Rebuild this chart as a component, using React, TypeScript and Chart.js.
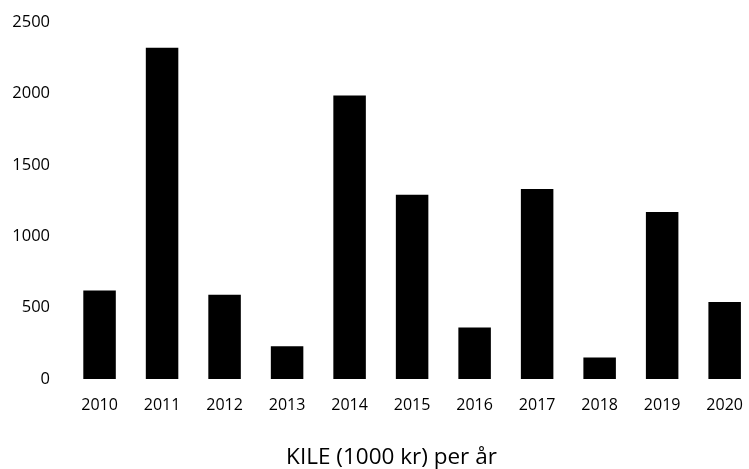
import React, { useEffect, useRef } from "react";
import { Chart, registerables } from "chart.js";

Chart.register(...registerables);

const years = ["2010", "2011", "2012", "2013", "2014", "2015", "2016", "2017", "2018", "2019", "2020"];
const kileValues = [620, 2320, 590, 230, 1985, 1290, 360, 1330, 150, 1170, 540];
const yTicks = [0, 500, 1000, 1500, 2000, 2500];
const chartTitle = "KILE (1000 kr) per år";

const FONT = "'Open Sans', 'DejaVu Sans', sans-serif";

const bottomTitlePlugin = {
  id: "bottomTitle",
  afterDraw(chart: any) {
    const { ctx, chartArea } = chart;
    ctx.save();
    ctx.font = `22.5px ${FONT}`;
    ctx.fillStyle = "#000";
    ctx.textAlign = "center";
    ctx.textBaseline = "middle";
    const x = chartArea.left + (chartArea.right - chartArea.left) * 0.47;
    const y = chartArea.bottom + 79;
    ctx.fillText(chartTitle, x, y);
    ctx.restore();
  },
};

export default function App() {
  const ref = useRef<HTMLCanvasElement | null>(null);

  useEffect(() => {
    if (!ref.current) return;
    const chart = new Chart(ref.current, {
      type: "bar",
      data: {
        labels: years,
        datasets: [
          {
            data: kileValues,
            backgroundColor: "#000000",
            borderWidth: 0,
            barPercentage: 0.52,
            categoryPercentage: 1,
          },
        ],
      },
      options: {
        animation: false,
        responsive: false,
        layout: { padding: { top: 22, left: 0, right: 1, bottom: 0 } },
        plugins: {
          legend: { display: false },
          tooltip: { enabled: false },
          title: { display: false },
        },
        scales: {
          x: {
            grid: { display: false, drawTicks: false },
            border: { display: false },
            ticks: {
              color: "#000",
              font: { family: FONT, size: 16 },
              padding: 17,
              maxRotation: 0,
              autoSkip: false,
            },
            afterFit: (scale: any) => {
              scale.height = 90;
            },
          },
          y: {
            min: 0,
            max: 2500,
            grid: { display: false, drawTicks: false },
            border: { display: false },
            afterBuildTicks: (scale: any) => {
              scale.ticks = yTicks.map((v) => ({ value: v }));
            },
            ticks: {
              color: "#000",
              font: { family: FONT, size: 16.5 },
              padding: 18.3,
              callback: (value: any) => String(value),
            },
            afterFit: (scale: any) => {
              scale.width = 68.3;
              scale.paddingTop = 0;
              scale.paddingBottom = 0;
            },
          },
        },
      },
      plugins: [bottomTitlePlugin],
    });
    return () => chart.destroy();
  }, []);

  return (
    <div
      style={{
        position: "fixed",
        left: 0,
        top: 0,
        width: 749,
        height: 469,
        overflow: "hidden",
        background: "#fff",
      }}
    >
      <canvas ref={ref} width={760} height={469} style={{ display: "block" }} />
    </div>
  );
}
